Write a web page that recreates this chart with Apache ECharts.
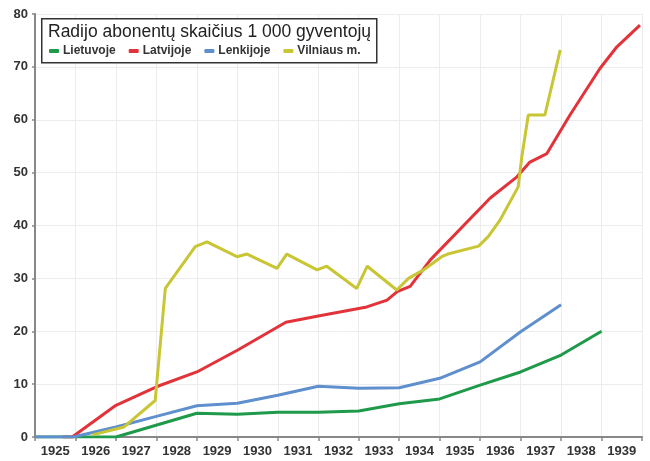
<!DOCTYPE html>
<html>
<head>
<meta charset="utf-8">
<script src="https://cdn.jsdelivr.net/npm/echarts@6/dist/echarts.min.js"></script>
<style>
    html, body { margin: 0; padding: 0; background: #fff; }
    #main { width: 650px; height: 461px; }
</style>
</head>
<body>
<div id="main"></div>
<script>
var years = ['1925', '1926', '1927', '1928', '1929', '1930', '1931', '1932', '1933', '1934', '1935', '1936', '1937', '1938', '1939']
var yTicks = [0, 10, 20, 30, 40, 50, 60, 70, 80]

// [metai, abonentai / 1000 gyv.]
var lietuvoje = [[1925, 0], [1927, 0], [1929, 4.5], [1930, 4.3], [1931, 4.7], [1932, 4.7], [1933, 4.9],
    [1934, 6.3], [1935, 7.2], [1936, 9.8], [1937, 12.3], [1938, 15.5], [1939, 20]]
var latvijoje = [[1925.68, 0], [1925.92, 0], [1927, 6], [1928, 9.5], [1929, 12.3], [1930, 16.4], [1931.2, 21.7],
    [1932, 22.9], [1933.2, 24.6], [1933.7, 25.9], [1933.95, 27.5], [1934.27, 28.5], [1934.77, 33.5],
    [1936.25, 45.2], [1936.91, 49.2], [1937.23, 52], [1937.65, 53.6], [1938.22, 60.9], [1938.96, 69.7],
    [1939.38, 73.8], [1939.95, 77.9]]
var lenkijoje = [[1925, 0], [1925.95, 0], [1927, 1.9], [1928, 3.9], [1929, 5.9], [1930, 6.4], [1931, 7.9],
    [1932, 9.6], [1933, 9.2], [1934, 9.3], [1935, 11.1], [1936, 14.2], [1937, 19.9], [1938, 25]]
var vilniaus = [[1926.42, 0.4], [1927.2, 1.9], [1927.97, 6.9], [1928.22, 28.1], [1928.96, 36], [1929.25, 36.9],
    [1929.99, 34.1], [1930.24, 34.6], [1930.98, 31.9], [1931.22, 34.6], [1931.97, 31.6], [1932.21, 32.3],
    [1932.95, 28.1], [1933.21, 32.3], [1933.94, 27.8], [1934.23, 30], [1934.6, 31.6], [1935.05, 34.1],
    [1935.2, 34.6], [1935.96, 36.1], [1936.2, 37.9], [1936.49, 41], [1936.94, 47.3], [1937.03, 53],
    [1937.19, 60.9], [1937.6, 60.9], [1937.98, 73.2]]

var names = ['Lietuvoje', 'Latvijoje', 'Lenkijoje', 'Vilniaus m.']
var colors = ['#1e9a4a', '#e3333a', '#5f8fcd', '#c8c634']

window.onload = function () {
    var myChart = echarts.init(document.getElementById('main'))

    var lines = [lietuvoje, latvijoje, lenkijoje, vilniaus]
    var series = []
    for (var i = 0; i < lines.length; i++) {
        series.push({
            name: names[i],
            type: 'line',
            xAxisIndex: 1,
            data: lines[i],
            symbol: 'none',
            lineStyle: { width: 3, color: colors[i] },
            itemStyle: { color: colors[i] },
            z: 2
        })
    }

    var option = {
        backgroundColor: '#fff',
        animation: false,
        textStyle: { fontFamily: 'Liberation Sans, Arial, sans-serif' },
        grid: { left: 35, right: 8, top: 14, bottom: 24 },
        title: {
            text: 'Radijo abonentų skaičius 1 000 gyventojų',
            left: 48,
            top: 23,
            padding: 0,
            z: 20,
            textStyle: { fontSize: 17.5, fontWeight: 'normal', color: '#222', fontFamily: 'Liberation Sans, Arial, sans-serif' }
        },
        legend: {
            data: names,
            left: 49,
            top: 45,
            padding: 0,
            z: 20,
            icon: 'roundRect',
            itemWidth: 10,
            itemHeight: 4,
            itemGap: 13,
            textStyle: { fontSize: 12, fontWeight: 'bold', color: '#333', padding: [0, 0, 0, -1] }
        },
        graphic: [{
            type: 'rect',
            left: 41,
            top: 18,
            z: 5,
            shape: { width: 335, height: 44 },
            style: { fill: '#fff', stroke: '#333', lineWidth: 1.5 }
        }],
        xAxis: [{
            type: 'category',
            data: years,
            boundaryGap: true,
            axisLine: { lineStyle: { color: '#888', width: 2 } },
            axisTick: { show: true, length: 4, lineStyle: { color: '#888', width: 1.5 } },
            axisLabel: { fontSize: 13, fontWeight: 'bold', color: '#333', margin: 8 },
            splitLine: { show: true, lineStyle: { color: '#ececec', width: 1 } }
        }, {
            type: 'value',
            min: 1925,
            max: 1940,
            show: false
        }],
        yAxis: {
            type: 'value',
            min: 0,
            max: 80,
            interval: 10,
            axisLine: { show: true, lineStyle: { color: '#888', width: 2 } },
            axisTick: { show: true, length: 3, lineStyle: { color: '#888', width: 1.5 } },
            axisLabel: {
                fontSize: 13, fontWeight: 'bold', color: '#333', margin: 7,
                formatter: function (v) { return yTicks.indexOf(v) >= 0 ? String(v) : '' }
            },
            splitLine: { show: true, lineStyle: { color: '#ececec', width: 1 } }
        },
        series: series
    }

    myChart.setOption(option)
}
</script>
</body>
</html>
